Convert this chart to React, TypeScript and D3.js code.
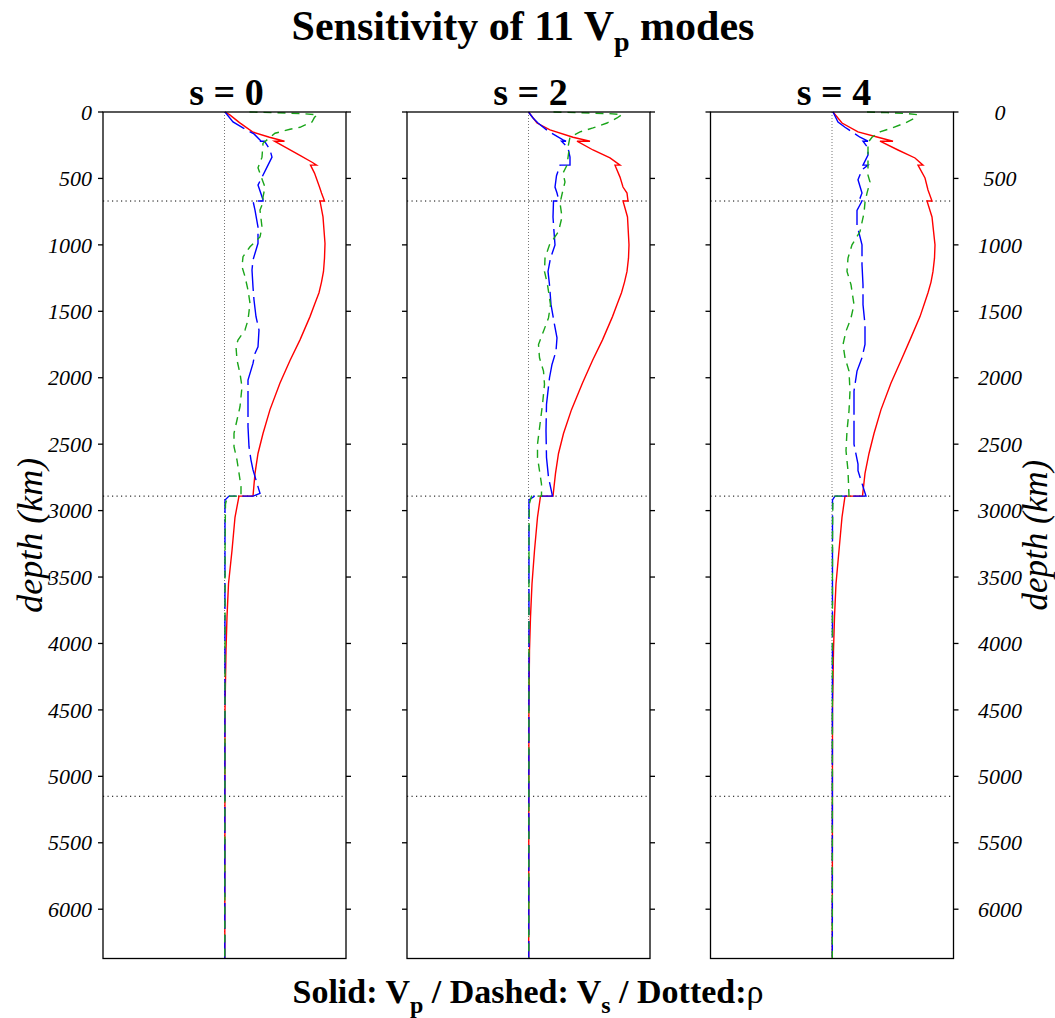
import React from "react";
import * as d3 from "d3";

type Pt = [number, number]; // [depth km, sensitivity]

const panelTitles = ["s = 0", "s = 2", "s = 4"];
const depthTicks = [0, 500, 1000, 1500, 2000, 2500, 3000, 3500, 4000, 4500, 5000, 5500, 6000];
const discontinuities = [670, 2891, 5150];

// s = 0
const vp0: Pt[] = [[0,0.005],[20,0.05],[80,0.15],[150,0.28],[190,0.45],[220,0.6],[220,0.5],[270,0.62],[325,0.75],[380,0.88],[400,0.92],[400,0.86],[460,0.9],[565,0.95],[610,0.97],[670,1.0],[670,0.955],[790,0.985],[990,1.005],[1100,1.0],[1200,0.99],[1280,0.97],[1360,0.945],[1440,0.905],[1540,0.855],[1715,0.755],[1870,0.655],[2040,0.555],[2240,0.455],[2420,0.385],[2570,0.335],[2720,0.305],[2891,0.285],[2891,0.145],[3050,0.105],[3300,0.075],[3550,0.04],[3800,0.025],[4050,0.015],[4500,0.005],[6371,0.003]];
const vs0: Pt[] = [[0,0.005],[75,0.085],[120,0.185],[165,0.295],[215,0.36],[220,0.36],[220,0.4],[285,0.455],[340,0.475],[415,0.425],[490,0.375],[550,0.335],[660,0.385],[670,0.385],[670,0.285],[738,0.305],[866,0.335],[988,0.335],[1114,0.285],[1189,0.275],[1317,0.285],[1415,0.295],[1541,0.315],[1641,0.345],[1767,0.335],[1817,0.305],[1892,0.285],[2018,0.235],[2168,0.235],[2369,0.235],[2519,0.245],[2620,0.265],[2694,0.285],[2870,0.355],[2891,0.285],[2891,0.045],[2920,0.005],[6371,0.003]];
const rho0: Pt[] = [[0,0.25],[5,0.5],[12,0.78],[22,0.93],[40,0.9],[75,0.875],[115,0.755],[130,0.655],[160,0.505],[210,0.425],[235,0.385],[340,0.375],[420,0.335],[525,0.385],[565,0.405],[640,0.385],[680,0.385],[738,0.355],[866,0.375],[940,0.355],[1014,0.255],[1089,0.185],[1164,0.175],[1239,0.205],[1340,0.235],[1440,0.255],[1566,0.235],[1641,0.205],[1716,0.135],[1767,0.115],[1867,0.125],[1968,0.155],[2068,0.175],[2218,0.155],[2318,0.125],[2418,0.095],[2519,0.095],[2620,0.125],[2718,0.145],[2820,0.165],[2891,0.165],[2891,0.03],[2950,0.01],[3200,0.006],[6371,0.003]];

// s = 2
const vp2: Pt[] = [[0,0],[83,0.085],[135,0.215],[190,0.445],[220,0.615],[220,0.485],[286,0.645],[346,0.815],[400,0.915],[400,0.865],[490,0.915],[565,0.945],[610,0.985],[670,0.995],[670,0.945],[790,0.99],[1000,1.005],[1100,1.0],[1200,0.985],[1280,0.96],[1360,0.93],[1440,0.89],[1540,0.84],[1715,0.74],[1870,0.64],[2040,0.54],[2240,0.43],[2420,0.35],[2570,0.3],[2720,0.27],[2891,0.245],[2891,0.12],[3050,0.09],[3300,0.06],[3550,0.035],[3800,0.02],[4050,0.01],[4500,0.004],[6371,0.002]];
const vs2: Pt[] = [[0,0],[45,0.045],[83,0.095],[143,0.195],[210,0.345],[220,0.375],[220,0.33],[270,0.395],[340,0.415],[400,0.415],[400,0.315],[480,0.28],[565,0.265],[610,0.285],[670,0.305],[670,0.25],[790,0.245],[900,0.255],[1000,0.265],[1100,0.22],[1200,0.195],[1300,0.21],[1450,0.225],[1600,0.26],[1700,0.285],[1800,0.275],[1900,0.235],[2000,0.21],[2200,0.18],[2400,0.175],[2600,0.18],[2750,0.2],[2891,0.24],[2891,0.06],[2920,0.005],[6371,0.003]];
const rho2: Pt[] = [[0,0.25],[5,0.5],[12,0.8],[20,0.935],[45,0.885],[83,0.785],[120,0.645],[150,0.515],[190,0.415],[263,0.395],[286,0.405],[400,0.385],[460,0.345],[527,0.365],[587,0.345],[685,0.315],[790,0.335],[900,0.3],[1000,0.21],[1100,0.165],[1200,0.16],[1300,0.19],[1450,0.22],[1550,0.2],[1650,0.15],[1750,0.1],[1850,0.11],[1950,0.15],[2050,0.16],[2200,0.14],[2350,0.115],[2500,0.09],[2600,0.09],[2700,0.11],[2800,0.13],[2891,0.13],[2891,0.03],[2950,0.008],[3200,0.005],[6371,0.003]];

// s = 4
const vp4: Pt[] = [[0,0.01],[83,0.1],[150,0.26],[190,0.46],[220,0.61],[220,0.48],[286,0.66],[346,0.83],[400,0.91],[400,0.86],[497,0.93],[587,0.96],[670,1.0],[670,0.95],[790,1.0],[1000,1.03],[1100,1.025],[1200,1.01],[1280,0.99],[1360,0.96],[1440,0.925],[1540,0.88],[1715,0.78],[1870,0.69],[2040,0.59],[2240,0.49],[2420,0.42],[2570,0.37],[2720,0.33],[2891,0.305],[2891,0.13],[3050,0.1],[3300,0.07],[3550,0.04],[3800,0.025],[4050,0.015],[4500,0.005],[6371,0.003]];
const vs4: Pt[] = [[0,0.01],[75,0.06],[115,0.13],[135,0.17],[190,0.28],[220,0.36],[220,0.31],[270,0.36],[325,0.36],[400,0.31],[400,0.36],[435,0.3],[510,0.26],[610,0.3],[650,0.28],[670,0.26],[670,0.3],[740,0.25],[850,0.25],[1000,0.3],[1150,0.3],[1300,0.31],[1450,0.31],[1600,0.33],[1750,0.33],[1850,0.3],[1950,0.25],[2100,0.22],[2300,0.22],[2500,0.22],[2650,0.26],[2700,0.26],[2891,0.34],[2891,0.03],[2920,0.005],[6371,0.003]];
const rho4: Pt[] = [[0,0.35],[5,0.55],[12,0.75],[20,0.85],[45,0.83],[83,0.73],[120,0.6],[150,0.48],[190,0.4],[230,0.36],[325,0.36],[400,0.36],[475,0.36],[527,0.38],[610,0.35],[680,0.33],[760,0.32],[900,0.28],[1000,0.2],[1100,0.16],[1200,0.15],[1300,0.19],[1450,0.22],[1550,0.19],[1650,0.14],[1750,0.11],[1850,0.13],[1950,0.17],[2100,0.18],[2250,0.17],[2400,0.15],[2550,0.14],[2700,0.16],[2891,0.17],[2891,0.03],[2950,0.008],[3200,0.005],[6371,0.003]];

const panels = [
  { title: panelTitles[0], vp: vp0, vs: vs0, rho: rho0 },
  { title: panelTitles[1], vp: vp2, vs: vs2, rho: rho2 },
  { title: panelTitles[2], vp: vp4, vs: vs4, rho: rho4 },
];

const W = 1055;
const H = 1018;
const top = 112;
const bottom = 958.5;
const panelLefts = [103, 407, 710.5];
const panelW = 243;
const serif = "'Liberation Serif', 'Times New Roman', serif";

export default function App() {
  const y = d3.scaleLinear().domain([0, 6371]).range([top, bottom]);
  return (
    <svg width={W} height={H} style={{ position: "absolute", left: 0, top: 0, background: "#fff" }}>
      <rect x={0} y={0} width={W} height={H} fill="#fff" />
      <text x={523} y={40} textAnchor="middle" fontFamily={serif} fontWeight="bold" fontSize={42}>
        Sensitivity of 11 V<tspan fontSize={28} dy={11}>p</tspan><tspan dy={-11}> modes</tspan>
      </text>
      {panels.map((p, i) => {
        const left = panelLefts[i];
        const x = d3.scaleLinear().domain([-1.215, 1.215]).range([left, left + panelW]);
        const line = d3.line<Pt>().x((d) => x(d[1])).y((d) => y(d[0]));
        return (
          <g key={i}>
            <text x={left + panelW / 2 + 2} y={105} textAnchor="middle" fontFamily={serif} fontWeight="bold" fontSize={38}>
              {p.title}
            </text>
            <line x1={x(0)} x2={x(0)} y1={top} y2={bottom} stroke="#777" strokeWidth={1} strokeDasharray="1,2" />
            {discontinuities.map((d) => (
              <line key={d} x1={left} x2={left + panelW} y1={y(d)} y2={y(d)} stroke="#000" strokeWidth={1} strokeDasharray="1.2,3.3" />
            ))}
            <path d={line(p.vp) || ""} fill="none" stroke="#ff0000" strokeWidth={1.4} />
            <path d={line(p.vs) || ""} fill="none" stroke="#0000ff" strokeWidth={1.4} strokeDasharray="26,6" />
            <path d={line(p.rho) || ""} fill="none" stroke="#1aa51a" strokeWidth={1.4} strokeDasharray="8,6" />
            <rect x={left} y={top} width={panelW} height={bottom - top} fill="none" stroke="#000" strokeWidth={1.3} />
            {depthTicks.map((t) => (
              <g key={t}>
                <line x1={left - 5} x2={left} y1={y(t)} y2={y(t)} stroke="#000" strokeWidth={1.3} />
                <line x1={left + panelW} x2={left + panelW + 5} y1={y(t)} y2={y(t)} stroke="#000" strokeWidth={1.3} />
              </g>
            ))}
          </g>
        );
      })}
      {depthTicks.map((t) => (
        <g key={"l" + t}>
          <text x={92} y={y(t)} dy="0.35em" textAnchor="end" fontFamily={serif} fontStyle="italic" fontSize={22}>{t}</text>
          <text x={1000} y={y(t)} dy="0.35em" textAnchor="middle" fontFamily={serif} fontStyle="italic" fontSize={22}>{t}</text>
        </g>
      ))}
      <text transform={`translate(42,${(top + bottom) / 2}) rotate(-90)`} textAnchor="middle" fontFamily={serif} fontStyle="italic" fontSize={36}>
        depth (km)
      </text>
      <text transform={`translate(1047,${(top + bottom) / 2}) rotate(-90)`} textAnchor="middle" fontFamily={serif} fontStyle="italic" fontSize={35}>
        depth (km)
      </text>
      <text x={528} y={1003} textAnchor="middle" fontFamily={serif} fontWeight="bold" fontSize={34}>
        Solid: V<tspan fontSize={24} dy={10}>p</tspan><tspan dy={-10}> / Dashed: V</tspan><tspan fontSize={24} dy={10}>s</tspan><tspan dy={-10}> / Dotted:</tspan><tspan fontWeight="normal">ρ</tspan>
      </text>
    </svg>
  );
}
